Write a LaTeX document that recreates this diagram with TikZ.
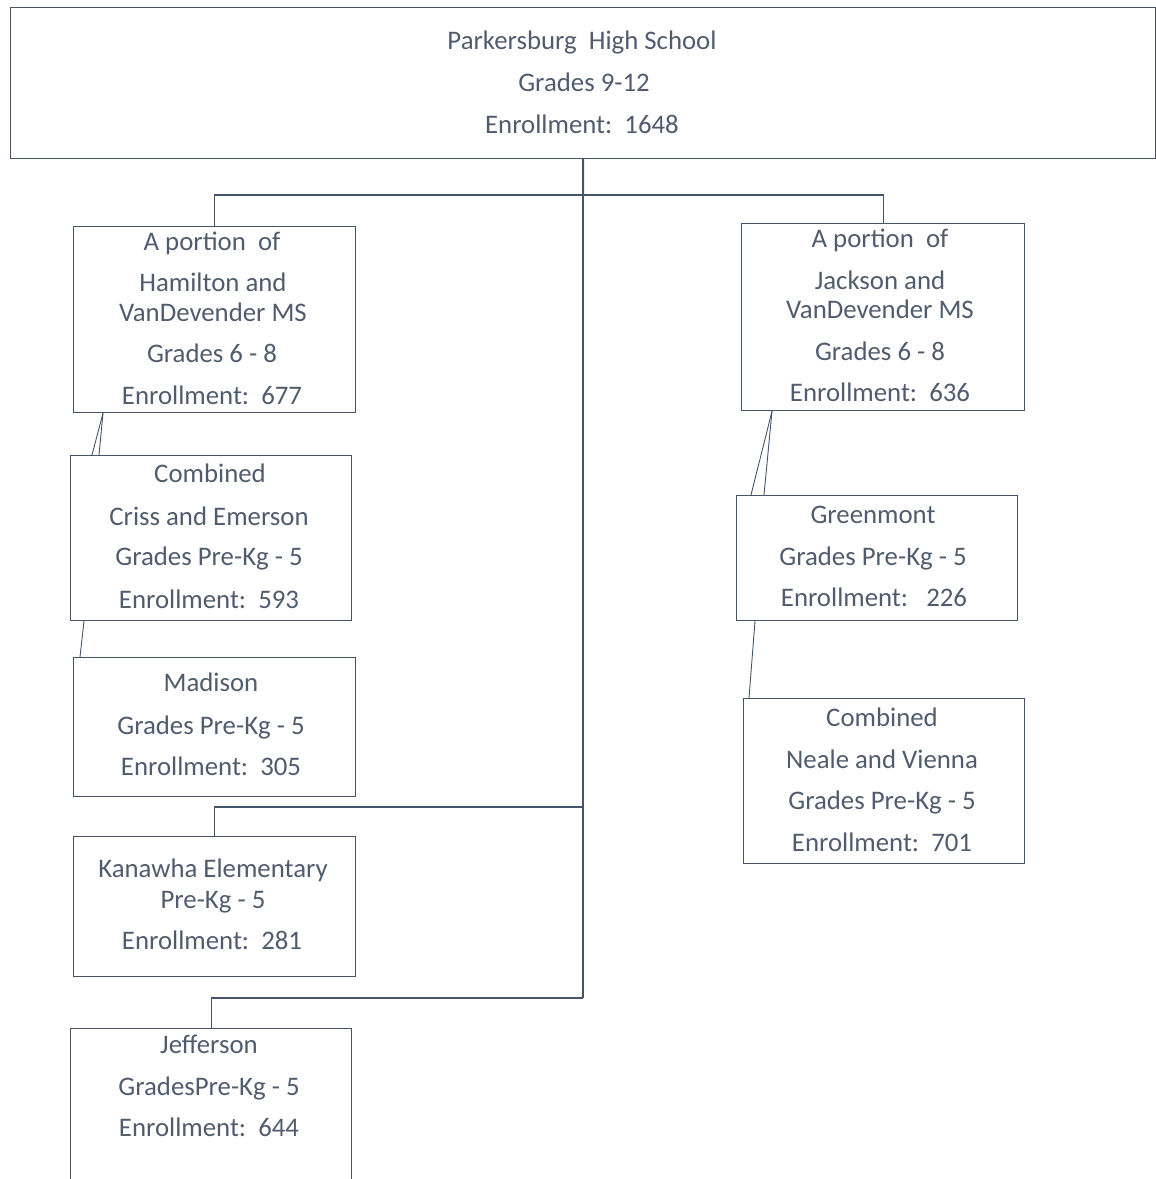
\documentclass[tikz,border=0pt]{standalone}
\usepackage{fontspec}
\setmainfont{Carlito}
\definecolor{ln}{HTML}{44546A}
\definecolor{tx}{HTML}{505C6E}
\begin{document}
\begin{tikzpicture}[x=1pt,y=-1pt,
  box/.style={draw=ln, line width=1.2pt, inner sep=0pt, anchor=north west},
  conn/.style={draw=ln, line width=1.1pt},
  txt/.style={text=tx, font=\fontsize{26.8}{32}\selectfont, anchor=base, inner sep=0pt}]
\useasboundingbox (0,0) rectangle (1156,1179);
% boxes
\node[box, minimum width=1145pt, minimum height=151pt] (top) at (10,7) {};
\node[box, minimum width=282pt, minimum height=186pt] (ham) at (73,226) {};
\node[box, minimum width=283pt, minimum height=187pt] (jack) at (741,223) {};
\node[box, minimum width=281pt, minimum height=165pt] (criss) at (70,455) {};
\node[box, minimum width=281pt, minimum height=125pt] (green) at (736,495) {};
\node[box, minimum width=282pt, minimum height=139pt] (mad) at (73,657) {};
\node[box, minimum width=281pt, minimum height=165pt] (neale) at (743,698) {};
\node[box, minimum width=282pt, minimum height=140pt] (kan) at (73,836) {};
\node[box, minimum width=281pt, minimum height=160pt] (jef) at (70,1028) {};
% texts
\node[txt] (top1) at (582,49) {Parkersburg\ \ High School};
\node[txt] (top2) at (584,91) {Grades 9-12};
\node[txt] (top3) at (582,133) {Enrollment:\ \ 1648};
\node[txt] (ham1) at (212,250) {A portion\ \ of};
\node[txt] (ham2) at (213,291) {Hamilton and};
\node[txt] (ham3) at (213,321) {VanDevender MS};
\node[txt] (ham4) at (212,362) {Grades 6 - 8};
\node[txt] (ham5) at (212,404) {Enrollment:\ \ 677};
\node[txt] (jack1) at (880,247) {A portion\ \ of};
\node[txt] (jack2) at (880,289) {Jackson and};
\node[txt] (jack3) at (880,318) {VanDevender MS};
\node[txt] (jack4) at (880,360) {Grades 6 - 8};
\node[txt] (jack5) at (880,401) {Enrollment:\ \ 636};
\node[txt] (cr1) at (210,482) {Combined};
\node[txt] (cr2) at (209,525) {Criss and Emerson};
\node[txt] (cr3) at (209,565) {Grades Pre-Kg - 5};
\node[txt] (cr4) at (209,608) {Enrollment:\ \ 593};
\node[txt] (gr1) at (873,523) {Greenmont};
\node[txt] (gr2) at (873,565) {Grades Pre-Kg - 5};
\node[txt] (gr3) at (874,606) {Enrollment:\ \ \ 226};
\node[txt] (ma1) at (211,691) {Madison};
\node[txt] (ma2) at (211,734) {Grades Pre-Kg - 5};
\node[txt] (ma3) at (211,775) {Enrollment:\ \ 305};
\node[txt] (ne1) at (882,726) {Combined};
\node[txt] (ne2) at (882,768) {Neale and Vienna};
\node[txt] (ne3) at (882,809) {Grades Pre-Kg - 5};
\node[txt] (ne4) at (882,851) {Enrollment:\ \ 701};
\node[txt] (ka1) at (213,877) {Kanawha Elementary};
\node[txt] (ka2) at (213,908) {Pre-Kg - 5};
\node[txt] (ka3) at (212,949) {Enrollment:\ \ 281};
\node[txt] (je1) at (209,1053) {Jefferson};
\node[txt] (je2) at (209,1095) {GradesPre-Kg - 5};
\node[txt] (je3) at (209,1136) {Enrollment:\ \ 644};
% connectors
\coordinate (jA) at (583,195);
\coordinate (jB) at (583,807);
\coordinate (jC) at (583,998);
\draw[conn, line width=2pt] (top.south) -- (jA);
\draw[conn] (jA) -- (jC);
\draw[conn] (ham.north) |- (jA) -| (jack.north);
\draw[conn] (kan.north) |- (jB);
\draw[conn] (jef.north) |- (jC);
\draw[conn, line width=0.9pt] ([xshift=30pt]ham.south west) -- ([xshift=22pt]criss.north west);
\draw[conn, line width=0.9pt] ([xshift=30pt]ham.south west) -- ([xshift=29pt]criss.north west);
\draw[conn, line width=0.9pt] ([xshift=14pt]criss.south west) -- ([xshift=7pt]mad.north west);
\draw[conn, line width=0.9pt] ([xshift=31pt]jack.south west) -- ([xshift=15pt]green.north west);
\draw[conn, line width=0.9pt] ([xshift=31pt]jack.south west) -- ([xshift=28pt]green.north west);
\draw[conn, line width=0.9pt] ([xshift=19pt]green.south west) -- ([xshift=6pt]neale.north west);
\end{tikzpicture}
\end{document}
